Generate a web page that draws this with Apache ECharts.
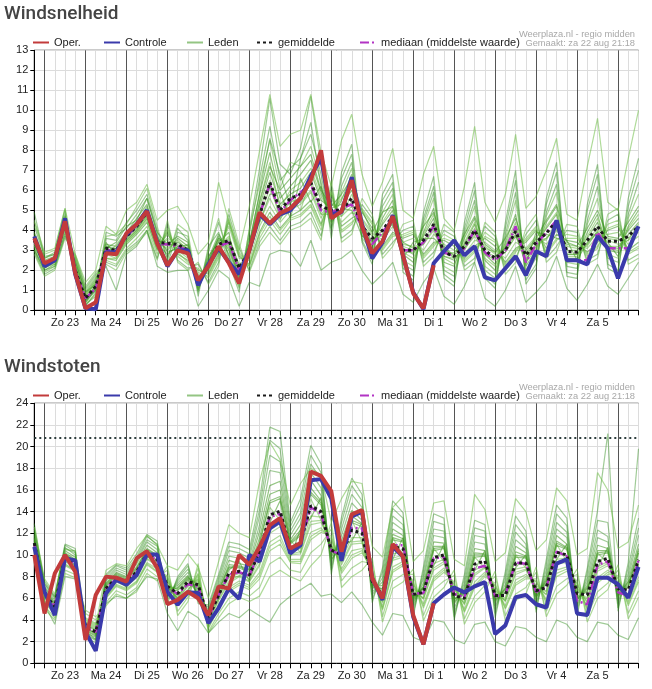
<!DOCTYPE html>
<html>
<head>
<meta charset="utf-8">
<script src="https://cdn.jsdelivr.net/npm/echarts@6/dist/echarts.min.js"></script>
<style>
  html, body { margin: 0; padding: 0; background: #fff; }
  #chart { width: 652px; height: 689px; }
</style>
</head>
<body>
<div id="chart"></div>
<script>
// 6-hourly steps, from za 22 aug 18:00 to zo 6 sep 12:00
const dayNames = ['Zo 23', 'Ma 24', 'Di 25', 'Wo 26', 'Do 27', 'Vr 28', 'Za 29', 'Zo 30', 'Ma 31', 'Di 1', 'Wo 2', 'Do 3', 'Vr 4', 'Za 5'];
const dayStamps = ['za 22', 'zo 23', 'ma 24', 'di 25', 'wo 26', 'do 27', 'vr 28', 'za 29', 'zo 30', 'ma 31', 'di 1', 'wo 2', 'do 3', 'vr 4', 'za 5', 'zo 6'];
const hours = ['00', '06', '12', '18'];

// ---- Windsnelheid (top) ----
const speedOper = [3.6, 2.35, 2.6, 4.45, 1.85, 0.1, 0.4, 2.85, 2.8, 3.85, 4.3, 4.95, 3.35, 2.25, 3.0, 2.85, 1.5, 2.2, 3.2, 2.35, 1.35, 3.0, 4.9, 4.35, 4.85, 5.1, 5.6, 6.5, 8.0, 4.6, 4.95, 6.5, 4.2, 2.85, 3.45, 4.7, 2.75, 0.85, 0.1, 2.25];
const speedControle = [3.7, 2.2, 2.5, 4.6, 1.8, 0.1, 0.05, 2.9, 2.9, 3.8, 4.3, 5.0, 3.4, 2.2, 3.0, 3.0, 1.25, 2.3, 3.1, 2.4, 1.8, 3.0, 4.8, 4.3, 4.8, 5.0, 5.6, 6.7, 7.6, 4.8, 4.9, 6.65, 4.3, 2.6, 3.4, 4.75, 2.75, 0.9, 0.05, 2.35, 2.95, 3.5, 2.75, 3.2, 1.65, 1.5, 2.1, 2.7, 1.75, 2.95, 2.7, 4.5, 2.5, 2.5, 2.3, 3.7, 3.1, 1.6, 3.0, 4.2];
const speedMean = [3.5, 2.3, 2.5, 4.4, 2.0, 0.6, 1.2, 3.1, 3.0, 3.7, 4.2, 4.9, 3.4, 3.35, 3.3, 3.0, 1.5, 2.2, 3.3, 3.5, 2.1, 3.0, 4.75, 6.4, 5.0, 5.6, 5.8, 6.4, 5.2, 5.0, 5.0, 5.6, 4.2, 3.6, 4.0, 4.7, 3.0, 3.0, 3.5, 4.3, 2.9, 2.7, 3.2, 4.0, 3.0, 2.6, 3.0, 3.95, 2.75, 3.4, 3.85, 4.45, 2.95, 2.9, 3.5, 4.2, 3.45, 3.45, 3.7, 4.2];
const speedMedian = [3.5, 2.3, 2.5, 4.4, 2.0, 0.6, 1.1, 3.0, 3.0, 3.7, 4.2, 4.9, 3.3, 3.3, 3.2, 3.0, 1.5, 2.2, 3.2, 3.4, 2.0, 3.0, 4.8, 6.3, 4.9, 5.5, 5.9, 6.3, 5.0, 4.9, 5.1, 5.3, 4.1, 3.3, 3.9, 4.6, 3.0, 3.0, 3.4, 4.2, 2.9, 2.7, 3.1, 4.0, 2.9, 2.5, 3.0, 4.2, 2.4, 3.3, 3.9, 4.5, 2.5, 2.5, 2.5, 3.9, 3.1, 3.1, 3.1, 4.2];
const speedMembers = [
  [3.8, 2.5, 2.7, 4.6, 2.0, 0.4, 1.0, 3.3, 3.2, 3.9, 4.6, 5.3, 3.6, 3.0, 3.6, 3.2, 1.2, 2.6, 3.8, 3.0, 1.5, 3.4, 5.8, 7.9, 5.6, 6.2, 6.8, 7.5, 5.9, 4.6, 5.5, 6.8, 4.1, 3.2, 4.6, 5.5, 2.8, 2.4, 3.9, 5.1, 2.4, 2.2, 3.6, 4.6, 2.5, 2.0, 3.4, 4.8, 2.2, 3.0, 4.4, 5.2, 2.6, 2.6, 3.9, 4.8, 3.0, 2.9, 4.2, 5.0],
  [3.3, 2.1, 2.4, 4.2, 2.4, 0.8, 1.5, 2.8, 2.6, 3.4, 3.9, 4.6, 3.1, 3.8, 3.0, 2.6, 1.8, 1.9, 2.9, 4.2, 2.6, 2.5, 4.2, 5.2, 4.4, 5.0, 5.3, 5.9, 4.6, 5.6, 4.4, 4.9, 4.6, 3.9, 3.5, 4.2, 3.4, 3.6, 3.0, 3.8, 3.3, 3.0, 2.8, 3.5, 3.4, 3.0, 2.6, 3.4, 3.1, 3.7, 3.3, 4.0, 3.3, 3.2, 3.1, 3.7, 3.8, 3.9, 3.3, 3.7],
  [4.9, 2.6, 2.9, 5.0, 1.8, 0.3, 0.7, 3.6, 3.5, 4.4, 5.0, 5.8, 4.0, 2.6, 4.1, 3.5, 0.9, 2.9, 4.4, 2.7, 1.1, 3.8, 6.6, 9.2, 6.5, 7.1, 7.6, 8.8, 6.8, 4.1, 6.2, 7.4, 3.8, 2.8, 5.2, 6.1, 2.3, 2.0, 4.4, 5.9, 2.0, 1.7, 3.9, 5.5, 2.0, 1.6, 3.8, 5.9, 1.8, 2.6, 4.9, 6.3, 2.2, 2.1, 4.5, 6.2, 2.6, 2.4, 4.8, 6.4],
  [3.0, 1.9, 2.2, 3.9, 2.6, 1.0, 1.7, 2.5, 2.3, 3.1, 3.6, 4.2, 2.8, 4.1, 2.7, 2.3, 2.1, 1.6, 2.6, 4.6, 2.9, 2.2, 3.6, 4.5, 3.8, 4.5, 4.7, 5.2, 4.0, 6.0, 3.9, 4.3, 5.1, 4.4, 3.0, 3.7, 3.8, 4.0, 2.6, 3.2, 3.8, 3.5, 2.4, 2.9, 3.9, 3.5, 2.2, 2.9, 3.6, 4.2, 2.8, 3.5, 3.8, 3.7, 2.7, 3.1, 4.3, 4.5, 2.8, 3.1],
  [3.6, 2.4, 2.5, 4.5, 2.1, 0.5, 1.3, 3.0, 3.1, 3.8, 4.3, 5.0, 3.5, 3.2, 3.4, 3.1, 1.4, 2.3, 3.5, 3.3, 1.9, 3.1, 5.2, 6.9, 5.3, 5.8, 6.1, 6.9, 5.5, 5.1, 5.3, 6.0, 4.4, 3.4, 4.3, 5.0, 3.1, 2.8, 3.7, 4.6, 2.7, 2.5, 3.3, 4.3, 2.8, 2.3, 3.2, 4.2, 2.5, 3.3, 4.1, 4.8, 2.8, 2.8, 3.6, 4.4, 3.2, 3.1, 4.0, 4.6],
  [2.8, 1.7, 2.0, 3.6, 2.8, 1.2, 1.9, 2.3, 2.0, 2.9, 3.3, 3.9, 2.5, 4.5, 2.4, 2.0, 2.4, 1.3, 2.2, 5.1, 3.3, 1.9, 3.2, 3.9, 3.3, 4.0, 4.2, 4.6, 3.5, 6.5, 3.4, 3.8, 5.6, 4.8, 2.6, 3.2, 4.3, 4.5, 2.2, 2.7, 4.3, 3.9, 2.0, 2.4, 4.4, 3.9, 1.8, 2.4, 4.1, 4.8, 2.4, 2.9, 4.3, 4.2, 2.3, 2.6, 4.8, 5.1, 2.3, 2.6],
  [4.2, 2.7, 2.8, 4.8, 1.6, 0.2, 0.9, 3.9, 3.7, 4.1, 4.8, 5.6, 3.8, 2.3, 3.9, 3.7, 0.7, 3.2, 3.9, 2.4, 0.9, 4.1, 7.1, 10.6, 7.3, 6.8, 8.1, 10.7, 7.4, 3.6, 6.9, 8.3, 3.4, 2.3, 5.8, 6.8, 1.9, 1.5, 4.9, 6.7, 1.6, 1.2, 4.4, 6.4, 1.6, 1.1, 4.4, 7.0, 1.3, 2.1, 5.6, 7.4, 1.7, 1.6, 5.3, 7.3, 2.1, 1.8, 5.6, 7.6],
  [3.4, 2.2, 2.6, 4.3, 2.3, 0.7, 1.4, 2.9, 2.9, 3.6, 4.1, 4.7, 3.3, 3.5, 3.2, 2.9, 1.6, 2.1, 3.2, 3.7, 2.2, 2.8, 4.7, 6.1, 4.8, 5.4, 5.6, 6.3, 5.0, 5.3, 4.9, 5.4, 4.3, 3.7, 3.8, 4.5, 3.3, 3.2, 3.3, 4.1, 3.0, 2.8, 3.0, 3.8, 3.2, 2.8, 2.9, 3.7, 2.9, 3.5, 3.6, 4.2, 3.2, 3.1, 3.2, 4.0, 3.6, 3.5, 3.6, 4.1],
  [3.1, 2.0, 2.3, 4.0, 2.5, 0.9, 1.6, 2.6, 2.5, 3.3, 3.8, 4.4, 3.0, 3.9, 2.8, 2.5, 2.0, 1.8, 2.8, 4.4, 2.7, 2.3, 3.9, 4.9, 4.1, 4.7, 5.0, 5.5, 4.3, 5.8, 4.2, 4.6, 4.9, 4.1, 3.2, 3.9, 3.6, 3.8, 2.8, 3.4, 3.5, 3.2, 2.6, 3.2, 3.6, 3.2, 2.4, 3.1, 3.4, 4.0, 3.1, 3.8, 3.5, 3.4, 2.9, 3.4, 4.0, 4.2, 3.0, 3.4],
  [4.4, 2.8, 3.0, 5.1, 1.7, 0.3, 0.8, 3.7, 3.8, 4.3, 5.2, 6.1, 4.2, 2.5, 4.3, 3.9, 1.0, 3.0, 4.6, 2.5, 1.2, 4.0, 6.3, 8.5, 6.1, 7.4, 7.2, 8.2, 6.4, 4.3, 5.9, 7.1, 3.6, 3.0, 4.9, 5.8, 2.5, 2.2, 4.2, 5.6, 2.2, 1.9, 3.7, 5.2, 2.2, 1.8, 3.6, 5.5, 2.0, 2.8, 4.7, 5.9, 2.4, 2.3, 4.3, 5.6, 2.8, 2.6, 4.6, 5.8],
  [2.9, 1.8, 2.1, 3.7, 2.7, 1.1, 1.8, 2.4, 2.2, 3.0, 3.4, 4.0, 2.6, 4.3, 2.5, 2.1, 2.3, 1.4, 2.4, 4.8, 3.1, 2.0, 3.4, 4.2, 3.5, 4.2, 4.4, 4.9, 3.7, 6.2, 3.6, 4.0, 5.3, 4.6, 2.8, 3.4, 4.0, 4.2, 2.4, 2.9, 4.0, 3.7, 2.2, 2.6, 4.2, 3.7, 2.0, 2.6, 3.8, 4.5, 2.6, 3.2, 4.0, 3.9, 2.5, 2.8, 4.5, 4.8, 2.5, 2.8],
  [3.7, 2.3, 2.6, 4.4, 2.2, 0.6, 1.1, 3.2, 3.0, 3.7, 4.4, 5.1, 3.4, 3.1, 3.5, 3.0, 1.3, 2.4, 3.6, 3.1, 1.7, 3.2, 5.5, 7.4, 5.1, 6.0, 6.4, 7.1, 5.7, 4.8, 5.6, 6.3, 4.2, 3.3, 4.4, 5.2, 2.9, 2.6, 3.8, 4.8, 2.6, 2.3, 3.4, 4.4, 2.6, 2.2, 3.3, 4.4, 2.4, 3.1, 4.2, 4.9, 2.7, 2.7, 3.7, 4.6, 3.1, 3.0, 4.1, 4.8],
  [3.5, 2.4, 2.4, 4.6, 1.9, 0.5, 1.2, 3.4, 2.7, 3.5, 4.0, 4.8, 3.7, 2.9, 3.1, 3.3, 1.1, 2.7, 3.4, 3.9, 1.4, 3.6, 4.4, 5.8, 5.9, 4.6, 6.6, 5.4, 6.2, 4.4, 5.1, 5.0, 3.7, 3.5, 4.0, 4.3, 2.6, 3.4, 3.6, 3.6, 3.1, 2.6, 3.1, 3.9, 2.9, 2.7, 3.1, 3.8, 2.3, 3.9, 3.8, 3.6, 3.5, 2.5, 3.4, 3.9, 3.4, 2.7, 3.8, 4.4],
  [3.2, 2.3, 2.5, 4.1, 2.3, 0.7, 1.4, 2.7, 3.3, 3.9, 4.1, 4.7, 3.2, 3.6, 3.3, 2.7, 1.7, 2.0, 3.1, 3.6, 2.3, 2.7, 5.0, 6.5, 4.5, 5.7, 5.0, 6.6, 4.8, 5.4, 4.7, 5.8, 4.5, 3.8, 3.7, 4.8, 3.2, 3.0, 3.4, 4.4, 2.8, 2.9, 3.2, 4.1, 3.1, 2.9, 3.0, 4.0, 2.7, 3.6, 3.5, 4.5, 3.0, 3.0, 3.3, 4.2, 3.5, 3.3, 3.5, 4.3],
  [3.0, 2.0, 2.2, 3.8, 2.4, 0.9, 1.3, 2.2, 1.0, 2.8, 3.2, 4.0, 2.2, 1.9, 2.0, 2.0, 0.2, 1.0, 2.0, 1.6, 0.2, 1.4, 1.2, 2.8, 3.0, 2.9, 2.2, 3.5, 2.0, 2.4, 2.6, 3.0, 2.0, 1.3, 1.8, 2.4, 0.8, 0.4, 1.4, 2.1, 0.7, 0.3, 1.2, 2.4, 0.6, 0.2, 1.0, 2.2, 0.4, 0.9, 1.5, 2.7, 1.1, 0.5, 1.3, 2.3, 1.2, 0.8, 1.6, 2.4],
  [4.5, 2.9, 3.1, 5.1, 2.8, 1.4, 2.0, 4.2, 3.8, 5.0, 5.4, 6.3, 4.5, 5.0, 5.2, 4.3, 2.8, 3.4, 6.4, 4.4, 3.0, 5.2, 8.0, 10.8, 8.2, 8.8, 9.0, 10.8, 7.9, 6.2, 8.5, 9.8, 6.8, 5.2, 6.4, 8.1, 5.0, 4.6, 6.8, 8.2, 4.6, 4.0, 6.2, 9.2, 5.4, 4.4, 5.8, 8.8, 5.1, 5.7, 7.0, 8.6, 4.8, 4.5, 7.2, 9.6, 5.4, 5.0, 7.6, 10.0],
  [3.9, 2.6, 2.8, 4.7, 2.1, 0.4, 1.1, 3.1, 3.4, 4.2, 4.5, 5.6, 3.9, 3.3, 3.7, 3.4, 1.3, 2.5, 3.6, 3.2, 1.6, 3.3, 5.4, 7.2, 6.0, 6.6, 7.2, 7.8, 6.0, 5.2, 5.8, 6.6, 5.0, 3.9, 4.9, 5.2, 3.4, 3.1, 4.2, 4.9, 3.2, 2.7, 3.8, 4.7, 3.3, 2.9, 3.6, 4.6, 3.0, 3.6, 4.5, 5.3, 3.4, 3.2, 4.1, 5.0, 3.7, 3.6, 4.4, 5.2],
  [3.2, 2.2, 2.3, 4.3, 2.2, 0.6, 1.2, 2.9, 2.8, 3.5, 4.0, 4.6, 3.2, 3.4, 3.1, 2.8, 1.6, 2.0, 3.1, 3.5, 2.0, 2.9, 4.4, 5.6, 4.6, 5.2, 5.4, 6.0, 4.8, 4.8, 4.7, 5.2, 4.0, 3.4, 3.8, 4.4, 2.9, 2.9, 3.3, 4.0, 2.7, 2.6, 3.1, 3.7, 2.8, 2.5, 2.9, 3.7, 2.6, 3.2, 3.6, 4.1, 2.8, 2.8, 3.3, 3.9, 3.2, 3.2, 3.5, 3.9],
  [3.5, 2.3, 2.6, 4.5, 1.9, 0.5, 1.0, 3.2, 3.1, 3.6, 4.3, 5.2, 3.3, 2.8, 3.2, 3.1, 1.0, 2.4, 3.7, 2.8, 1.3, 3.3, 5.9, 8.6, 6.8, 5.2, 7.6, 9.4, 6.2, 4.0, 6.6, 7.8, 3.5, 2.5, 5.5, 6.4, 2.1, 1.7, 4.6, 6.2, 1.8, 1.4, 4.1, 6.0, 1.8, 1.3, 4.1, 6.5, 1.5, 2.3, 5.3, 6.9, 1.9, 1.8, 5.0, 6.8, 2.3, 2.0, 5.2, 7.0],
  [3.3, 2.1, 2.4, 4.2, 2.3, 0.8, 1.5, 2.6, 2.6, 3.4, 3.9, 4.5, 3.0, 4.0, 2.9, 2.4, 1.9, 1.7, 2.7, 4.5, 2.8, 2.2, 3.8, 4.7, 4.0, 4.6, 4.8, 5.3, 4.2, 5.9, 4.0, 4.4, 5.0, 4.3, 3.1, 3.8, 3.7, 3.9, 2.7, 3.3, 3.6, 3.4, 2.5, 3.0, 3.7, 3.4, 2.3, 3.0, 3.5, 4.1, 2.9, 3.6, 3.6, 3.6, 2.8, 3.2, 4.1, 4.3, 2.9, 3.2]
];

// ---- Windstoten (bottom) ----
const gustOper = [10.0, 4.6, 8.3, 10.0, 8.45, 2.15, 6.3, 8.0, 7.9, 7.55, 9.7, 10.35, 8.8, 5.45, 5.85, 6.6, 6.0, 4.45, 7.1, 6.9, 10.0, 9.1, 10.75, 12.75, 13.4, 10.6, 11.1, 17.7, 17.3, 15.9, 10.3, 13.75, 14.15, 7.85, 6.0, 11.0, 9.85, 4.45, 1.75, 5.55];
const gustControle = [10.75, 6.6, 4.45, 9.7, 9.5, 2.9, 1.15, 6.45, 7.7, 7.25, 8.15, 10.05, 10.05, 6.6, 5.4, 6.55, 6.5, 3.7, 5.1, 6.9, 5.95, 10.0, 9.4, 12.45, 13.1, 10.15, 10.9, 16.9, 17.0, 15.2, 9.45, 13.55, 14.0, 7.85, 5.85, 10.75, 9.85, 4.3, 1.75, 5.55, 6.35, 7.0, 6.55, 7.1, 7.5, 2.7, 3.5, 6.1, 6.3, 5.45, 5.15, 9.2, 9.6, 4.6, 4.45, 7.9, 7.9, 7.3, 6.05, 8.9];
const gustMean = [11.1, 6.45, 5.2, 9.85, 9.2, 3.4, 2.9, 6.9, 7.9, 7.5, 8.45, 10.15, 9.55, 7.1, 6.45, 7.55, 7.25, 4.15, 6.3, 8.3, 8.5, 8.15, 10.3, 13.7, 14.05, 10.6, 11.2, 14.55, 14.0, 10.45, 10.0, 12.3, 12.0, 7.55, 6.3, 10.75, 10.6, 6.35, 6.55, 9.75, 10.0, 6.25, 6.0, 9.15, 9.45, 6.25, 6.25, 9.25, 9.25, 6.7, 7.0, 10.25, 10.0, 6.45, 6.3, 9.4, 9.7, 6.9, 6.75, 9.55];
const gustMedian = [11.0, 6.4, 5.2, 9.8, 9.2, 3.3, 2.9, 6.9, 7.8, 7.5, 8.4, 10.1, 9.5, 7.0, 6.4, 7.3, 7.1, 4.2, 6.3, 8.2, 8.4, 8.1, 10.3, 13.5, 13.8, 10.6, 11.1, 14.4, 13.8, 10.4, 10.0, 12.5, 12.45, 7.6, 6.3, 10.9, 10.9, 6.4, 6.5, 9.7, 9.8, 6.4, 6.1, 8.75, 9.0, 6.2, 6.3, 9.3, 9.2, 6.6, 7.0, 10.3, 9.9, 5.75, 5.45, 9.1, 9.4, 6.55, 6.25, 9.5];
const gustMembers = [
  [11.8, 7.0, 5.6, 10.4, 9.8, 3.0, 2.5, 7.4, 8.4, 8.0, 9.2, 10.9, 10.2, 6.6, 7.2, 8.1, 6.6, 4.6, 7.0, 9.5, 9.2, 9.0, 12.2, 16.4, 16.8, 11.4, 12.8, 16.9, 15.5, 9.8, 11.3, 14.1, 13.2, 7.0, 7.2, 12.4, 11.8, 5.6, 7.4, 11.2, 11.1, 5.5, 6.8, 10.6, 10.4, 5.6, 7.0, 10.8, 10.2, 6.0, 7.9, 11.8, 11.0, 5.8, 7.2, 10.9, 10.6, 6.1, 7.6, 11.0],
  [10.6, 6.0, 4.9, 9.4, 8.8, 3.8, 3.3, 6.5, 7.5, 7.1, 7.9, 9.6, 9.0, 7.6, 5.9, 7.1, 7.8, 3.8, 5.8, 7.4, 8.0, 7.5, 9.0, 12.0, 12.6, 10.0, 10.1, 12.8, 13.0, 11.0, 9.1, 11.0, 11.1, 8.0, 5.6, 9.5, 9.8, 7.0, 5.9, 8.6, 9.2, 6.9, 5.4, 8.1, 8.8, 6.8, 5.7, 8.2, 8.6, 7.2, 6.3, 9.2, 9.3, 7.0, 5.6, 8.5, 9.0, 7.5, 6.1, 8.6],
  [12.9, 7.3, 6.0, 10.6, 10.2, 2.7, 2.2, 7.8, 8.8, 8.4, 9.6, 11.4, 10.8, 6.0, 7.6, 8.7, 6.0, 5.0, 7.6, 10.4, 10.2, 9.7, 13.6, 19.2, 18.6, 12.2, 13.9, 18.4, 17.0, 9.0, 12.4, 15.6, 14.4, 6.3, 7.9, 13.6, 12.8, 5.0, 8.1, 12.4, 12.2, 4.7, 7.4, 11.8, 11.6, 5.0, 7.7, 12.1, 11.0, 5.4, 8.6, 13.0, 12.1, 5.2, 7.9, 12.3, 11.7, 5.5, 8.3, 12.5],
  [10.2, 5.6, 4.5, 9.0, 8.5, 4.2, 3.7, 6.0, 7.1, 6.7, 7.4, 9.1, 8.4, 8.1, 5.3, 6.6, 8.3, 3.2, 5.1, 6.6, 7.2, 6.8, 7.8, 10.4, 11.0, 9.3, 9.2, 11.4, 12.1, 11.8, 8.3, 9.7, 10.2, 8.6, 4.9, 8.4, 9.0, 7.6, 5.1, 7.6, 8.4, 7.5, 4.7, 7.0, 8.0, 7.4, 5.0, 7.2, 7.8, 7.8, 5.5, 8.0, 8.5, 7.6, 4.9, 7.4, 8.2, 8.1, 5.3, 7.5],
  [11.3, 6.6, 5.3, 10.0, 9.4, 3.2, 2.8, 7.1, 8.1, 7.7, 8.7, 10.4, 9.8, 6.9, 6.7, 7.8, 7.0, 4.3, 6.6, 8.8, 8.8, 8.4, 11.0, 14.8, 15.2, 11.0, 11.8, 15.6, 14.6, 10.2, 10.6, 13.0, 12.6, 7.3, 6.6, 11.4, 11.2, 6.0, 6.9, 10.4, 10.6, 5.9, 6.3, 9.8, 9.9, 6.0, 6.5, 9.8, 9.7, 6.4, 7.3, 10.9, 10.5, 6.1, 6.6, 10.0, 10.2, 6.5, 7.0, 10.2],
  [10.0, 5.3, 4.2, 8.6, 8.2, 4.6, 4.0, 5.6, 6.7, 6.3, 7.0, 8.7, 8.0, 8.6, 4.8, 6.1, 8.8, 2.9, 4.6, 6.0, 6.6, 6.2, 7.0, 9.2, 9.8, 8.6, 8.4, 10.2, 11.0, 12.4, 7.6, 8.8, 9.4, 9.2, 4.3, 7.6, 8.2, 8.2, 4.4, 6.8, 7.6, 8.1, 4.1, 6.2, 7.2, 8.0, 4.4, 6.4, 7.0, 8.4, 4.8, 7.1, 7.8, 8.2, 4.3, 6.6, 7.4, 8.6, 4.6, 6.7],
  [12.4, 7.6, 6.2, 11.0, 10.6, 2.4, 1.9, 8.2, 9.1, 8.8, 10.1, 11.9, 11.3, 5.5, 8.0, 9.2, 5.5, 5.4, 8.2, 11.2, 11.0, 10.5, 15.0, 21.8, 21.4, 13.0, 15.2, 20.1, 18.4, 8.2, 13.5, 17.1, 15.6, 5.6, 8.8, 15.0, 13.9, 4.3, 8.9, 13.8, 13.4, 4.0, 8.2, 13.2, 12.8, 4.2, 8.5, 13.6, 12.2, 4.7, 9.6, 14.6, 13.4, 4.4, 8.8, 14.1, 21.2, 4.8, 9.3, 19.8],
  [11.0, 6.3, 5.1, 9.7, 9.0, 3.5, 3.0, 6.8, 7.7, 7.3, 8.2, 9.9, 9.3, 7.3, 6.2, 7.3, 7.5, 4.0, 6.1, 7.9, 8.3, 7.8, 9.6, 12.8, 13.3, 10.3, 10.6, 13.6, 13.5, 10.7, 9.6, 11.6, 11.6, 7.8, 6.0, 10.1, 10.3, 6.7, 6.3, 9.2, 9.6, 6.5, 5.8, 8.6, 9.1, 6.5, 6.0, 8.7, 8.9, 6.9, 6.7, 9.6, 9.7, 6.7, 6.0, 8.9, 9.4, 7.1, 6.4, 9.1],
  [11.6, 6.8, 5.5, 10.2, 9.6, 3.1, 2.6, 7.3, 8.3, 7.9, 8.9, 10.6, 10.0, 6.8, 7.0, 8.0, 6.8, 4.4, 6.8, 9.1, 9.0, 8.7, 11.6, 15.6, 16.0, 11.2, 12.3, 16.2, 15.0, 10.0, 10.9, 13.6, 12.9, 7.1, 6.9, 11.9, 11.5, 5.8, 7.1, 10.8, 10.8, 5.7, 6.5, 10.2, 10.1, 5.8, 6.8, 10.3, 9.9, 6.2, 7.6, 11.3, 10.7, 5.9, 6.9, 10.4, 10.4, 6.3, 7.3, 10.6],
  [10.4, 5.8, 4.7, 9.2, 8.6, 4.0, 3.5, 6.2, 7.3, 6.9, 7.6, 9.3, 8.7, 7.8, 5.6, 6.8, 8.0, 3.5, 5.5, 7.0, 7.6, 7.2, 8.4, 11.2, 11.8, 9.6, 9.6, 12.1, 12.5, 11.4, 8.7, 10.4, 10.6, 8.3, 5.2, 8.9, 9.4, 7.3, 5.5, 8.0, 8.8, 7.2, 5.0, 7.5, 8.4, 7.1, 5.3, 7.7, 8.2, 7.5, 5.9, 8.6, 8.9, 7.3, 5.2, 7.9, 8.6, 7.8, 5.7, 8.0],
  [12.0, 7.1, 5.8, 10.7, 10.0, 2.8, 2.4, 7.6, 8.6, 8.2, 9.4, 11.2, 10.5, 6.3, 7.4, 8.4, 6.3, 4.8, 7.3, 9.9, 9.7, 9.3, 12.8, 17.8, 17.6, 11.8, 13.4, 17.6, 16.2, 9.4, 11.8, 14.8, 13.8, 6.6, 7.5, 13.0, 12.3, 5.3, 7.8, 11.8, 11.6, 5.1, 7.1, 11.2, 11.0, 5.3, 7.3, 11.4, 10.6, 5.7, 8.2, 12.4, 11.6, 5.5, 7.5, 11.6, 11.2, 5.8, 7.9, 11.8],
  [9.8, 5.0, 4.0, 8.3, 7.9, 4.9, 4.3, 5.3, 6.4, 6.0, 6.6, 8.3, 7.6, 9.0, 4.4, 5.7, 9.2, 2.8, 4.2, 5.5, 6.1, 5.7, 6.2, 8.0, 8.6, 8.0, 7.6, 9.0, 10.0, 13.0, 7.0, 8.0, 8.6, 9.7, 3.8, 6.9, 7.5, 8.7, 3.9, 6.1, 7.0, 8.6, 3.6, 5.6, 6.6, 8.5, 3.9, 5.8, 6.4, 8.9, 4.3, 6.4, 7.2, 8.7, 3.8, 6.0, 6.8, 9.1, 4.1, 6.1],
  [11.4, 6.4, 5.0, 9.6, 9.1, 3.6, 3.1, 6.6, 8.0, 7.0, 8.6, 9.8, 9.6, 7.0, 6.0, 7.7, 6.4, 4.5, 6.0, 8.6, 9.4, 7.6, 10.6, 13.0, 15.0, 9.8, 12.4, 13.4, 15.3, 9.6, 10.8, 11.3, 13.0, 7.0, 6.6, 9.6, 11.6, 6.0, 7.0, 9.0, 11.0, 5.9, 6.6, 8.6, 10.4, 5.8, 6.9, 8.8, 10.0, 6.1, 7.7, 9.6, 11.0, 5.9, 7.0, 8.8, 10.7, 6.2, 7.5, 9.0],
  [10.8, 6.2, 5.3, 10.1, 9.3, 3.3, 2.7, 7.0, 7.6, 7.8, 8.3, 10.3, 9.2, 7.2, 6.8, 7.4, 7.6, 3.9, 6.5, 8.0, 8.0, 8.7, 10.0, 14.4, 13.2, 11.4, 10.2, 15.2, 13.2, 10.8, 9.4, 13.2, 11.2, 7.9, 5.8, 11.6, 10.0, 6.6, 6.0, 10.6, 9.4, 6.4, 5.6, 9.8, 8.8, 6.5, 5.8, 10.0, 8.8, 6.9, 6.6, 11.0, 9.4, 6.6, 5.9, 10.2, 9.2, 7.0, 6.3, 10.2],
  [10.0, 5.4, 3.6, 8.0, 7.8, 3.0, 2.2, 5.5, 6.2, 6.0, 6.8, 8.0, 7.8, 4.6, 3.0, 4.8, 4.2, 2.8, 3.8, 4.6, 4.2, 5.0, 4.4, 3.8, 5.4, 6.2, 6.8, 7.4, 6.2, 6.4, 5.6, 6.6, 5.4, 3.8, 2.6, 4.6, 4.4, 2.4, 2.0, 4.0, 3.8, 2.2, 1.8, 3.6, 3.8, 2.0, 1.6, 3.4, 3.2, 2.4, 2.0, 4.0, 3.6, 2.4, 2.0, 3.8, 3.6, 2.6, 2.2, 4.2],
  [12.6, 7.8, 6.4, 10.5, 10.4, 3.9, 3.4, 8.6, 9.2, 9.0, 10.6, 11.8, 10.9, 9.0, 8.6, 10.1, 8.9, 6.0, 9.4, 12.8, 12.0, 11.6, 16.8, 20.4, 18.8, 14.6, 16.6, 18.0, 17.4, 13.0, 15.2, 16.8, 16.6, 10.8, 9.8, 14.4, 15.4, 9.4, 10.4, 14.8, 15.0, 9.6, 9.0, 15.6, 14.2, 9.4, 10.2, 15.2, 14.0, 10.4, 11.4, 16.2, 15.0, 10.0, 10.6, 17.6, 16.0, 10.6, 11.2, 14.6],
  [11.5, 6.7, 5.4, 10.1, 9.5, 3.3, 2.7, 7.2, 8.2, 7.8, 8.8, 10.5, 9.9, 7.0, 6.9, 7.9, 7.2, 4.4, 6.7, 8.9, 8.9, 8.6, 11.2, 15.0, 15.4, 11.1, 12.0, 15.8, 14.8, 10.3, 10.7, 13.2, 12.8, 7.4, 6.8, 11.6, 11.3, 6.1, 7.0, 10.6, 10.7, 6.0, 6.4, 10.0, 10.0, 6.1, 6.6, 10.0, 9.8, 6.5, 7.4, 11.1, 10.6, 6.2, 6.7, 10.2, 10.3, 6.6, 7.1, 10.4],
  [10.7, 6.1, 5.0, 9.5, 8.9, 3.7, 3.2, 6.6, 7.6, 7.2, 8.0, 9.7, 9.1, 7.5, 6.0, 7.2, 7.7, 3.9, 5.9, 7.6, 8.1, 7.6, 9.2, 12.3, 12.9, 10.1, 10.3, 13.1, 13.2, 10.9, 9.3, 11.2, 11.3, 7.9, 5.7, 9.7, 10.0, 6.9, 6.0, 8.8, 9.4, 6.8, 5.5, 8.3, 8.9, 6.7, 5.8, 8.4, 8.7, 7.0, 6.4, 9.4, 9.5, 6.9, 5.7, 8.7, 9.2, 7.3, 6.2, 8.8],
  [12.2, 7.4, 6.1, 10.9, 10.3, 2.6, 2.1, 8.0, 9.0, 8.6, 9.8, 11.7, 11.0, 5.8, 7.8, 9.0, 5.8, 5.2, 7.9, 10.8, 10.6, 10.1, 14.2, 20.6, 19.8, 12.6, 14.6, 19.2, 17.6, 8.6, 13.0, 16.4, 15.0, 5.9, 8.4, 14.3, 13.4, 4.6, 8.5, 13.1, 12.8, 4.3, 7.8, 12.5, 12.2, 4.6, 8.1, 12.8, 11.6, 5.0, 9.1, 13.8, 12.7, 4.8, 8.4, 13.2, 13.0, 5.1, 8.8, 13.4],
  [10.3, 5.7, 4.6, 9.1, 8.6, 4.1, 3.6, 6.1, 7.2, 6.8, 7.5, 9.2, 8.5, 8.0, 5.4, 6.7, 8.2, 3.3, 5.3, 6.8, 7.4, 7.0, 8.1, 10.8, 11.4, 9.4, 9.4, 11.7, 12.3, 11.6, 8.5, 10.0, 10.4, 8.4, 5.0, 8.6, 9.2, 7.4, 5.3, 7.8, 8.6, 7.3, 4.8, 7.2, 8.2, 7.2, 5.1, 7.4, 8.0, 7.6, 5.7, 8.3, 8.7, 7.4, 5.0, 7.6, 8.4, 7.9, 5.5, 7.7]
];
const gustLimit = 20.8;

// category axis: za 22 18u ... zo 6 12u
const times = [];
for (let d = 0; d < dayStamps.length; d++) {
    for (let h = 0; h < 4; h++) {
        if (d === 0 && h < 3) continue;
        if (times.length >= 60) break;
        times.push(dayStamps[d] + ' ' + hours[h] + 'u');
    }
}

const FONT = '"Liberation Sans", Arial, sans-serif';
const RED = '#c23b3b';
const BLUE = '#3a3aab';
const GREENS = ['rgba(60,150,30,0.55)', 'rgba(95,180,60,0.5)', 'rgba(45,140,25,0.45)', 'rgba(110,190,70,0.55)'];

const gridTops = [50.3, 403.3];

function xAxisFor(idx) {
    return {
        type: 'category',
        gridIndex: idx,
        data: times,
        boundaryGap: false,
        axisLine: {lineStyle: {color: '#000', width: 1}},
        axisTick: {show: true, interval: 0, length: 5, lineStyle: {color: '#000'}},
        axisLabel: {
            interval: 0,
            margin: 7,
            color: '#222',
            fontFamily: FONT,
            fontSize: 11,
            formatter: (v, i) => ((i - 3) % 4 === 0 && i >= 3) ? dayNames[(i - 3) / 4] : ''
        },
        splitLine: {
            show: true,
            interval: 0,
            // index 1, 5, 9, ... fall on midnight
            lineStyle: {color: ['#dcdcdc', '#555', '#dcdcdc', '#dcdcdc'], width: 1}
        }
    };
}

function yAxisFor(idx, max, step) {
    return {
        type: 'value',
        gridIndex: idx,
        min: 0,
        max: max,
        interval: step,
        axisLine: {show: true, lineStyle: {color: '#000'}},
        axisTick: {show: true, length: 4, lineStyle: {color: '#000'}},
        axisLabel: {color: '#222', fontFamily: FONT, fontSize: 11, margin: 6},
        splitLine: {lineStyle: {color: '#dcdcdc', width: 1}}
    };
}

function plume(idx, members, median, mean, controle, oper) {
    const list = members.map((row, k) => ({
        name: 'Leden',
        type: 'line',
        xAxisIndex: idx,
        yAxisIndex: idx,
        data: row,
        symbol: 'none',
        silent: true,
        color: 'rgba(150,200,130,0.8)',
        lineStyle: {width: 1.2, color: GREENS[k % GREENS.length]},
        z: 2
    }));
    list.push({
        name: 'mediaan (middelste waarde)', type: 'line', xAxisIndex: idx, yAxisIndex: idx,
        data: median, symbol: 'none', color: '#b233c4',
        lineStyle: {width: 2.5, color: '#b233c4', type: [9, 3, 2, 3]}, z: 3
    });
    list.push({
        name: 'gemiddelde', type: 'line', xAxisIndex: idx, yAxisIndex: idx,
        data: mean, symbol: 'none', color: '#1a1a1a',
        lineStyle: {width: 3, color: '#1a1a1a', type: [3, 3]}, z: 4
    });
    list.push({
        name: 'Controle', type: 'line', xAxisIndex: idx, yAxisIndex: idx,
        data: controle, symbol: 'none', color: BLUE,
        lineStyle: {width: 4, color: BLUE}, z: 5
    });
    list.push({
        name: 'Oper.', type: 'line', xAxisIndex: idx, yAxisIndex: idx,
        data: oper, symbol: 'none', color: RED,
        lineStyle: {width: 4, color: RED}, z: 6
    });
    return list;
}

// one legend block per item so every entry sits where it does in the original
const legendSlots = [
    ['Oper.', 32], ['Controle', 103], ['Leden', 186], ['gemiddelde', 256], ['mediaan (middelste waarde)', 359]
];
const legends = [];
[37, 390].forEach(top => {
    legendSlots.forEach(([name, left]) => {
        legends.push({
            data: [name], left: left, top: top, padding: 0,
            itemWidth: 16, itemHeight: 12, itemGap: 0,
            selectedMode: false,
            itemStyle: {opacity: 0},
            textStyle: {color: '#222', fontFamily: FONT, fontSize: 11}
        });
    });
});

const seriesTop = plume(0, speedMembers, speedMedian, speedMean, speedControle, speedOper);
const seriesBottom = plume(1, gustMembers, gustMedian, gustMean, gustControle, gustOper);
seriesBottom.push({
    name: 'grens', type: 'line', xAxisIndex: 1, yAxisIndex: 1,
    data: times.map(() => gustLimit), symbol: 'none', silent: true,
    lineStyle: {width: 2, color: '#2d3d3d', type: [2, 3]}, z: 7
});

function credit(text, top) {
    return {
        type: 'text', right: 17, top: top,
        style: {text: text, fill: '#a8a8a8', font: '9.3px "Liberation Sans", Arial, sans-serif'}
    };
}

const chart = echarts.init(document.getElementById('chart'), null, {renderer: 'canvas'});
chart.setOption({
    animation: false,
    backgroundColor: '#fff',
    title: [
        {text: 'Windsnelheid', left: 4, top: 5, padding: 0, textStyle: {fontFamily: 'Roboto, sans-serif', fontWeight: 500, fontSize: 19, color: '#444'}},
        {text: 'Windstoten', left: 4, top: 358, padding: 0, textStyle: {fontFamily: 'Roboto, sans-serif', fontWeight: 500, fontSize: 19, color: '#444'}}
    ],
    graphic: [
        credit('Weerplaza.nl - regio midden', 29.5),
        credit('Gemaakt: za 22 aug 21:18', 38.5),
        credit('Weerplaza.nl - regio midden', 382.5),
        credit('Gemaakt: za 22 aug 21:18', 391.5)
    ],
    legend: legends,
    grid: [
        {left: 34.3, right: 13.5, top: gridTops[0], height: 260, show: true, borderColor: '#000', borderWidth: 1, backgroundColor: 'transparent'},
        {left: 34.3, right: 13.5, top: gridTops[1], height: 260, show: true, borderColor: '#000', borderWidth: 1, backgroundColor: 'transparent'}
    ],
    xAxis: [xAxisFor(0), xAxisFor(1)],
    yAxis: [yAxisFor(0, 13, 1), yAxisFor(1, 24, 2)],
    series: seriesTop.concat(seriesBottom)
});
</script>
</body>
</html>
